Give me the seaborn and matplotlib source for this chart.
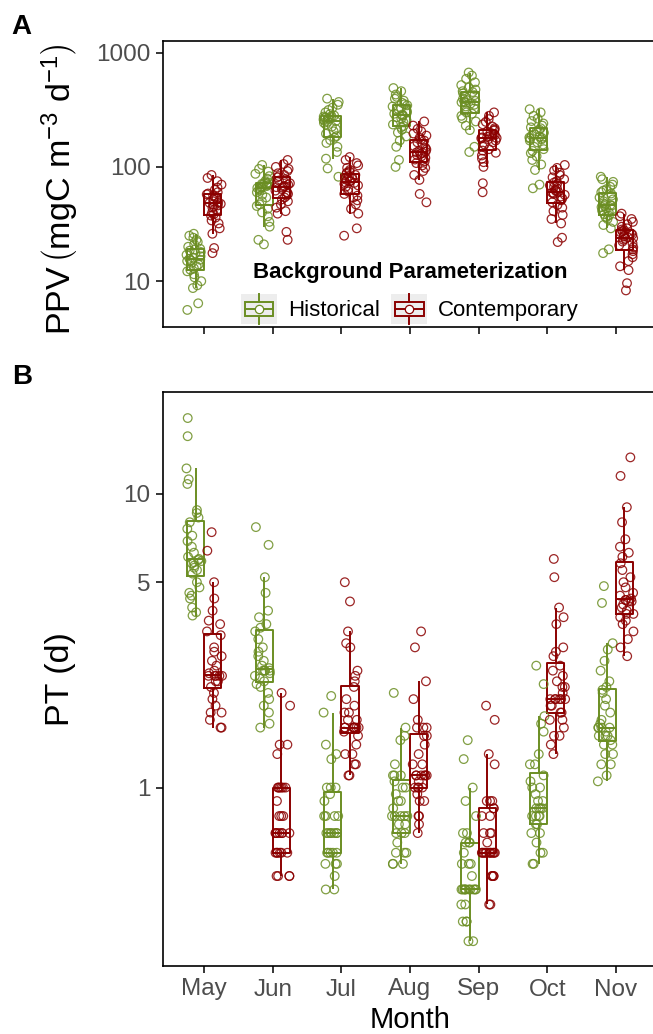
import numpy as np
import pandas as pd
import matplotlib
matplotlib.use("Agg")
import matplotlib.pyplot as plt
import seaborn as sns
from matplotlib.legend_handler import HandlerBase
from matplotlib.patches import Rectangle
from matplotlib.lines import Line2D

# ---------------- data ----------------
months = ["May", "Jun", "Jul", "Aug", "Sep", "Oct", "Nov"]
groups = ["Historical", "Contemporary"]
colors = {"Historical": "#6B8E23", "Contemporary": "#8B0000"}

# PPV (mgC m-3 d-1), per month
ppv_hist = [
    [5.6, 6.4, 8.7, 9.2, 10.0, 10.8, 11.5, 12.2, 12.6, 13.0, 13.5, 14.0, 14.5, 15.0, 15.2, 15.4,
     15.7, 16.0, 16.5, 17.0, 17.5, 18.0, 18.5, 18.9, 19.2, 20.0, 21.0, 22.0, 23.0, 24.0, 25.0, 26.0],
    [21, 23, 30, 33, 37, 40, 43, 45.5, 47, 50, 54, 57, 60, 62, 63.5, 64.5,
     65.5, 66, 67, 68, 69, 70, 71, 72, 73, 75, 79, 83, 87, 91, 96, 104],
    [82, 97, 118, 135, 150, 162, 172, 180, 186, 195, 205, 215, 225, 235, 243, 248,
     252, 256, 260, 264, 268, 272, 276, 279, 282, 290, 300, 315, 330, 350, 370, 396],
    [100, 115, 150, 170, 185, 200, 212, 222, 228, 235, 245, 255, 265, 272, 279, 283,
     287, 292, 300, 310, 318, 328, 338, 346, 354, 365, 380, 395, 410, 430, 460, 490],
    [135, 150, 210, 230, 250, 265, 280, 292, 300, 312, 325, 338, 350, 358, 364, 368,
     372, 378, 385, 395, 410, 425, 440, 452, 460, 475, 495, 520, 550, 590, 630, 670],
    [65, 70, 94, 105, 115, 124, 132, 138, 143, 150, 157, 164, 170, 174, 177, 179,
     181, 184, 188, 193, 199, 205, 212, 218, 222, 230, 240, 252, 265, 280, 300, 320],
    [17.6, 19, 29, 31, 33, 35, 36.5, 37.5, 38.5, 40, 41.5, 42.5, 43.5, 44.5, 45.5, 45.8,
     46.3, 47, 48, 50, 52, 54, 56, 58.5, 60, 62, 64, 67, 70, 74, 78, 82],
]
ppv_cont = [
    [17.6, 19.5, 26, 29, 32, 34, 36, 37.5, 38.5, 40, 42, 44, 45, 46, 47, 47.5,
     48.5, 49, 50, 52, 53, 55, 56, 57.5, 58.5, 60, 63, 66, 70, 75, 80, 85],
    [23, 27, 39, 41, 44, 47, 50, 52, 54, 56, 58, 60, 62, 64, 66, 66.5,
     67.5, 68, 70, 72, 74, 76, 78, 81, 83, 85, 88, 92, 96, 100, 106, 115],
    [25, 29, 39, 43, 47, 51, 54, 56, 58, 61, 64, 67, 69, 71, 72.5, 73.5,
     74.5, 75.5, 77, 79, 81, 83, 85, 87, 89, 91, 94, 98, 103, 108, 115, 122],
    [49, 58, 77, 85, 92, 98, 103, 108, 112, 116, 120, 124, 127, 130, 133, 134,
     136, 138, 142, 147, 152, 158, 164, 170, 174, 180, 188, 196, 205, 215, 230, 250],
    [60, 72, 100, 110, 118, 126, 133, 139, 143, 150, 157, 164, 170, 175, 178, 179,
     181, 183, 186, 190, 194, 199, 204, 208, 212, 218, 226, 236, 248, 262, 280, 300],
    [22, 24, 32, 35, 38, 41, 44, 46.5, 49, 51, 53, 55, 57, 58, 59, 59.5,
     60.5, 61.5, 63, 65, 67, 69, 71, 73, 75, 78, 81, 85, 89, 93, 98, 104],
    [8.3, 9.6, 12.5, 13.5, 15, 16.2, 17.2, 18.3, 19, 19.8, 20.6, 21.4, 22.2, 23, 23.5, 23.8,
     24.2, 24.6, 25, 25.6, 26.2, 26.8, 27.4, 27.9, 28.3, 29, 30, 31.5, 33, 35, 37, 39],
]

# PT (d), per month
pt_hist = [
    [3.85, 3.95, 4.1, 4.4, 4.5, 4.6, 4.8, 5.0, 5.35, 5.5, 5.6, 5.7, 5.8, 5.85, 5.9, 5.95,
     6.0, 6.1, 6.3, 6.6, 6.9, 7.2, 7.6, 8.0, 8.3, 8.6, 8.8, 10.8, 11.2, 12.2, 15.7, 18.1],
    [1.6, 1.65, 1.8, 1.9, 2.0, 2.1, 2.2, 2.25, 2.3, 2.35, 2.4, 2.45, 2.5, 2.5, 2.5, 2.5,
     2.55, 2.6, 2.7, 2.8, 2.9, 3.0, 3.2, 3.4, 3.5, 3.6, 3.8, 4.0, 4.6, 5.2, 6.7, 7.7],
    [0.45, 0.45, 0.5, 0.55, 0.55, 0.55, 0.6, 0.6, 0.6, 0.6, 0.6, 0.7, 0.7, 0.7, 0.7, 0.7,
     0.7, 0.7, 0.8, 0.8, 0.8, 0.8, 0.9, 0.95, 1.0, 1.0, 1.0, 1.25, 1.3, 1.4, 1.8, 2.05],
    [0.55, 0.55, 0.55, 0.6, 0.6, 0.6, 0.65, 0.7, 0.7, 0.7, 0.75, 0.75, 0.8, 0.8, 0.8, 0.8,
     0.8, 0.85, 0.9, 0.9, 0.95, 1.0, 1.0, 1.05, 1.1, 1.1, 1.1, 1.2, 1.45, 1.5, 1.6, 2.1],
    [0.3, 0.3, 0.35, 0.35, 0.35, 0.4, 0.4, 0.45, 0.45, 0.45, 0.45, 0.45, 0.45, 0.45, 0.45, 0.45,
     0.45, 0.5, 0.55, 0.55, 0.55, 0.6, 0.65, 0.65, 0.65, 0.7, 0.7, 0.8, 0.9, 1.0, 1.25, 1.45],
    [0.55, 0.55, 0.6, 0.6, 0.65, 0.7, 0.7, 0.75, 0.75, 0.8, 0.8, 0.8, 0.8, 0.85, 0.85, 0.85,
     0.85, 0.9, 0.9, 0.95, 1.0, 1.0, 1.05, 1.1, 1.2, 1.2, 1.3, 1.55, 1.65, 1.75, 2.25, 2.6],
    [1.05, 1.1, 1.2, 1.2, 1.3, 1.3, 1.4, 1.4, 1.45, 1.5, 1.5, 1.5, 1.55, 1.6, 1.6, 1.6,
     1.6, 1.65, 1.7, 1.8, 1.9, 2.0, 2.1, 2.15, 2.2, 2.3, 2.5, 2.7, 2.95, 3.1, 4.25, 4.85],
]
pt_cont = [
    [1.6, 1.6, 1.7, 1.8, 1.8, 1.9, 2.0, 2.1, 2.2, 2.3, 2.3, 2.4, 2.4, 2.4, 2.4, 2.4,
     2.45, 2.5, 2.6, 2.7, 2.8, 2.9, 3.0, 3.3, 3.4, 3.6, 3.7, 4.0, 4.4, 5.0, 6.4, 7.4],
    [0.5, 0.5, 0.5, 0.5, 0.6, 0.6, 0.6, 0.6, 0.6, 0.6, 0.7, 0.7, 0.7, 0.7, 0.7, 0.7,
     0.7, 0.8, 0.8, 0.8, 0.9, 1.0, 1.0, 1.0, 1.0, 1.0, 1.0, 1.3, 1.4, 1.4, 1.9, 2.1],
    [1.1, 1.1, 1.2, 1.2, 1.3, 1.3, 1.4, 1.5, 1.55, 1.6, 1.6, 1.6, 1.6, 1.6, 1.6, 1.6,
     1.6, 1.7, 1.7, 1.8, 1.8, 1.9, 2.0, 2.2, 2.3, 2.4, 2.5, 3.0, 3.1, 3.4, 4.3, 5.0],
    [0.7, 0.75, 0.8, 0.8, 0.9, 0.9, 0.95, 1.0, 1.0, 1.0, 1.0, 1.05, 1.1, 1.1, 1.1, 1.1,
     1.1, 1.1, 1.2, 1.2, 1.3, 1.4, 1.5, 1.5, 1.6, 1.6, 1.6, 1.7, 2.0, 2.3, 3.0, 3.4],
    [0.4, 0.4, 0.5, 0.5, 0.5, 0.5, 0.6, 0.6, 0.6, 0.6, 0.6, 0.6, 0.6, 0.6, 0.6, 0.6,
     0.6, 0.65, 0.7, 0.7, 0.7, 0.8, 0.8, 0.85, 0.85, 0.9, 0.9, 0.9, 1.2, 1.3, 1.7, 1.9],
    [1.3, 1.4, 1.5, 1.5, 1.6, 1.7, 1.7, 1.8, 1.8, 1.9, 1.9, 2.0, 2.0, 2.0, 2.0, 2.0,
     2.0, 2.1, 2.2, 2.2, 2.3, 2.4, 2.5, 2.6, 2.8, 2.9, 3.0, 3.6, 3.8, 4.1, 5.2, 6.0],
    [2.8, 3.0, 3.2, 3.4, 3.6, 3.7, 3.8, 3.9, 3.9, 4.0, 4.1, 4.2, 4.3, 4.3, 4.35, 4.35,
     4.4, 4.5, 4.6, 4.8, 5.0, 5.2, 5.5, 5.8, 6.1, 6.3, 6.6, 7.0, 8.0, 9.0, 11.5, 13.3],
]

ppv_ticks = [10, 100, 1000]
pt_ticks = [1, 5, 10]


def long_frame(hist, cont):
    rows = []
    for name, series in (("Historical", hist), ("Contemporary", cont)):
        for m, vals in zip(months, series):
            for v in vals:
                rows.append((m, name, v))
    return pd.DataFrame(rows, columns=["Month", "Param", "val"])


df_ppv = long_frame(ppv_hist, ppv_cont)
df_pt = long_frame(pt_hist, pt_cont)

# ---------------- style ----------------
plt.rcParams["font.family"] = ["Liberation Sans", "DejaVu Sans"]
plt.rcParams["mathtext.fontset"] = "custom"
plt.rcParams["mathtext.rm"] = "Liberation Sans"
plt.rcParams["mathtext.it"] = "Liberation Sans:italic"
plt.rcParams["mathtext.bf"] = "Liberation Sans:bold"

np.random.seed(7)

fig = plt.figure(figsize=(6.53, 10.34), dpi=100)
ax1 = fig.add_axes([163 / 653, 1 - 327 / 1034, 494 / 653, 286 / 1034])
ax2 = fig.add_axes([163 / 653, 1 - 966 / 1034, 494 / 653, 574 / 1034])


def draw_panel(ax, df, ylim, ticks):
    sns.boxplot(data=df, x="Month", y="val", hue="Param", order=months, hue_order=groups,
                palette=colors, fill=False, showfliers=False, showcaps=False, width=0.5,
                gap=0, linewidth=1.4, whis=1.5, log_scale=True, legend=False, ax=ax)
    n0 = len(ax.collections)
    sns.stripplot(data=df, x="Month", y="val", hue="Param", order=months, hue_order=groups,
                  palette=colors, dodge=True, jitter=0.3, size=6.2, log_scale=True,
                  legend=False, ax=ax, zorder=3)
    for coll in ax.collections[n0:]:
        fc = coll.get_facecolors()
        coll.set_facecolors("none")
        coll.set_edgecolors(fc)
        coll.set_linewidth(0.9)
        coll.set_alpha(0.85)
        off = np.array(coll.get_offsets())
        if len(off):
            c = np.round(off[:, 0])
            off[:, 0] = c + (off[:, 0] - c) * 0.75
            coll.set_offsets(off)
    ax.set_yscale("log")
    ax.set_ylim(*ylim)
    ax.set_xlim(-0.6, 6.6)
    ax.set_yticks(ticks)
    ax.set_yticklabels([str(t) for t in ticks])
    ax.yaxis.set_minor_locator(matplotlib.ticker.NullLocator())
    for s in ax.spines.values():
        s.set_visible(True)
        s.set_color("black")
        s.set_linewidth(1.2)
    ax.tick_params(axis="both", which="major", direction="out", length=5, width=1.1,
                   color="black", labelcolor="#4D4D4D", labelsize=17.5, pad=4)
    ax.set_facecolor("white")
    ax.grid(False)


draw_panel(ax1, df_ppv, (3.97, 1265), ppv_ticks)
draw_panel(ax2, df_pt, (0.247, 22.2), pt_ticks)

ax1.set_xlabel("")
ax1.tick_params(axis="x", labelbottom=False)
ax1.set_ylabel(r"PPV$\,\left(\mathrm{mgC\ m^{-3}\ d^{-1}}\right)$", fontsize=24.5, va="center")
ax1.yaxis.set_label_coords((60 - 163) / 494, 0.48)

ax2.set_xlabel("Month", fontsize=21, va="center")
ax2.xaxis.set_label_coords(0.5, (966 - 1020) / 574)
ax2.set_ylabel("PT (d)", fontsize=24.5, va="center")
ax2.yaxis.set_label_coords((60 - 163) / 494, 0.5)

fig.text(21 / 653, 1 - 27 / 1034, "A", fontsize=20, fontweight="bold", ha="center", va="center")
fig.text(22 / 653, 1 - 377 / 1034, "B", fontsize=20, fontweight="bold", ha="center", va="center")


# ---------------- legend ----------------
class BoxKey(HandlerBase):
    def create_artists(self, legend, orig_handle, xd, yd, w, h, fontsize, trans):
        c = orig_handle.get_color()
        x0, y0 = -xd, -yd
        cx = x0 + w / 2
        arts = [
            Rectangle((x0, y0), w, h, facecolor="#EDEDED", edgecolor="none", transform=trans),
            Rectangle((x0 + 0.1 * w, y0 + 0.25 * h), 0.8 * w, 0.5 * h, facecolor="none",
                      edgecolor=c, lw=1.4, transform=trans),
            Line2D([cx, cx], [y0, y0 + 0.25 * h], color=c, lw=1.4, transform=trans),
            Line2D([cx, cx], [y0 + 0.75 * h, y0 + h], color=c, lw=1.4, transform=trans),
            Line2D([x0 + 0.1 * w, x0 + 0.9 * w], [y0 + 0.5 * h] * 2, color=c, lw=1.4,
                   transform=trans),
            Line2D([cx], [y0 + 0.5 * h], marker="o", markerfacecolor="white",
                   markeredgecolor=c, markersize=6, markeredgewidth=0.9, transform=trans),
        ]
        return arts


handles = [Line2D([], [], color=colors[g]) for g in groups]
leg = ax1.legend(handles, groups, handler_map={Line2D: BoxKey()}, ncol=2,
                 loc="lower center", bbox_to_anchor=(0.5, 0.0), frameon=False,
                 fontsize=16, title="Background Parameterization",
                 title_fontproperties={"weight": "bold", "size": 16},
                 handlelength=1.62, handleheight=1.65, handletextpad=0.5,
                 columnspacing=0.5, borderpad=0.1, borderaxespad=0.05)

fig.savefig("out.png", dpi=100, facecolor="white")
